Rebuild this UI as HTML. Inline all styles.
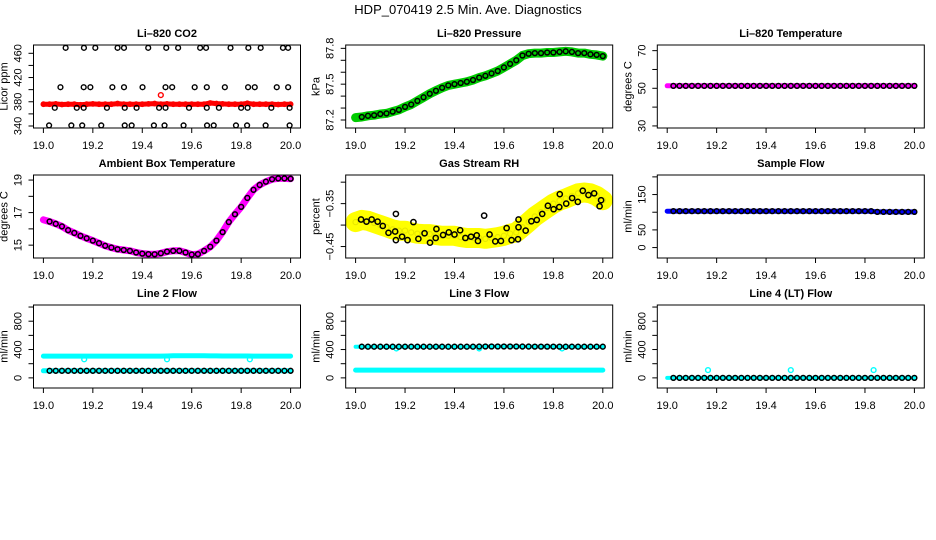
<!DOCTYPE html>
<html><head><meta charset="utf-8"><style>
html,body{margin:0;padding:0;background:#fff;}
svg{display:block;font-family:"Liberation Sans",Arial,sans-serif;}
</style></head><body>
<svg id="chart" width="936" height="540" viewBox="0 0 936 540">
<text x="468" y="14" text-anchor="middle" font-size="13">HDP_070419  2.5 Min. Ave. Diagnostics</text>
</svg>
<script>
// ---- data ----
const xTicks = [19.0, 19.2, 19.4, 19.6, 19.8, 20.0];
const xTickLabels = ["19.0", "19.2", "19.4", "19.6", "19.8", "20.0"];
const xStep41 = [19.0,19.025,19.05,19.075,19.1,19.125,19.15,19.175,19.2,19.225,19.25,19.275,19.3,19.325,19.35,19.375,19.4,19.425,19.45,19.475,19.5,19.525,19.55,19.575,19.6,19.625,19.65,19.675,19.7,19.725,19.75,19.775,19.8,19.825,19.85,19.875,19.9,19.925,19.95,19.975,20.0];

const co2Red = [376,376,376.5,375.5,376,376,375,376,376.5,376,376,376,377,376,376,376,376,376.5,377,376,376.5,376,376,376,376,376,376,378,377,376.5,376,376,376,377.5,376,376,376,376,375.5,376,376];
const co2RedOutlierX = [19.475];
const co2RedOutlierY = [391];
const co2BlackX = [19.09,19.164,19.21,19.30,19.326,19.424,19.497,19.545,19.634,19.658,19.757,19.829,19.879,19.969,19.99,
 19.069,19.163,19.19,19.279,19.326,19.401,19.494,19.521,19.612,19.661,19.734,19.828,19.855,19.944,19.99,
 19.046,19.135,19.163,19.257,19.329,19.377,19.468,19.494,19.589,19.661,19.71,19.8,19.826,19.922,19.996,
 19.023,19.113,19.157,19.234,19.329,19.357,19.447,19.49,19.567,19.662,19.689,19.779,19.824,19.899,19.996];
const co2BlackY = [469,469,469,469,469,469,469,469,469,469,469,469,469,469,469,
 404,404,404,404,404,404,404,404,404,404,404,404,404,404,404,
 370,370,370,370,370,370,370,370,370,370,370,370,370,370,370,
 341,341,341,341,341,341,341,341,341,341,341,341,341,341,341];

const pressure = [87.22,87.225,87.235,87.24,87.25,87.255,87.27,87.285,87.31,87.33,87.36,87.39,87.42,87.445,87.47,87.49,87.50,87.51,87.52,87.535,87.555,87.57,87.59,87.61,87.64,87.67,87.70,87.74,87.755,87.76,87.76,87.765,87.765,87.77,87.775,87.77,87.76,87.76,87.75,87.745,87.735];

const liTemp = [51.3,51.3,51.3,51.3,51.3,51.3,51.3,51.3,51.3,51.3,51.3,51.3,51.3,51.3,51.3,51.3,51.3,51.3,51.3,51.3,51.3,51.3,51.3,51.3,51.3,51.3,51.3,51.3,51.3,51.3,51.3,51.3,51.3,51.3,51.3,51.3,51.3,51.3,51.3,51.3,51.3];

const ambientTemp = [16.56,16.45,16.31,16.15,15.92,15.75,15.57,15.42,15.28,15.12,14.96,14.85,14.75,14.7,14.65,14.55,14.48,14.45,14.44,14.5,14.6,14.65,14.65,14.55,14.42,14.45,14.65,14.9,15.28,15.8,16.42,16.9,17.35,17.9,18.4,18.7,18.9,19.05,19.1,19.1,19.08];

const rhYellow = [-0.393,-0.388,-0.39,-0.395,-0.40,-0.405,-0.41,-0.413,-0.413,-0.417,-0.42,-0.421,-0.421,-0.423,-0.425,-0.425,-0.425,-0.428,-0.43,-0.43,-0.43,-0.432,-0.43,-0.428,-0.425,-0.42,-0.417,-0.405,-0.393,-0.38,-0.37,-0.36,-0.35,-0.343,-0.338,-0.332,-0.326,-0.324,-0.326,-0.332,-0.342];
const rhBlackX = [19.022,19.044,19.065,19.089,19.110,19.133,19.160,19.163,19.163,19.188,19.210,19.234,19.254,19.279,19.301,19.324,19.327,19.354,19.377,19.400,19.423,19.444,19.467,19.490,19.495,19.520,19.542,19.565,19.588,19.611,19.631,19.657,19.659,19.659,19.688,19.711,19.733,19.755,19.778,19.801,19.824,19.826,19.852,19.876,19.899,19.919,19.942,19.965,19.987,19.993];
const rhBlackY = [-0.387,-0.392,-0.387,-0.392,-0.402,-0.418,-0.415,-0.374,-0.435,-0.427,-0.435,-0.393,-0.432,-0.419,-0.441,-0.430,-0.409,-0.423,-0.417,-0.422,-0.412,-0.430,-0.427,-0.424,-0.437,-0.378,-0.422,-0.438,-0.437,-0.407,-0.435,-0.433,-0.387,-0.405,-0.413,-0.391,-0.388,-0.374,-0.355,-0.363,-0.358,-0.328,-0.350,-0.337,-0.346,-0.320,-0.330,-0.326,-0.356,-0.342];

const sampleFlow = [103,103,103,103,103,103,103,103,103,103,103,103,103,103,103,103,103,103,103,103,103,103,103,103,103,103,103,103,103,103,103,103,103,103,101,101,101,101,101,101,101];

const line2Upper = [307,307,307,307,307,307,307,307,307,307,307,307,307,307,307,307,307,307,307,307,309,311,311,311,311,311,311,310,310,309,309,309,309,309,308,308,308,308,308,308,308];
const line2Lower = [100,100,100,100,100,100,100,100,100,100,100,100,100,100,100,100,100,100,100,100,100,100,100,100,100,100,100,100,100,100,100,100,100,100,100,100,100,100,100,100,100];
const line2OutX = [19.165,19.5,19.835];
const line2OutY = [262,262,262];

const line3Upper = [440,440,440,440,440,440,440,440,440,440,440,440,440,440,440,440,440,440,440,440,442,443,443,443,443,443,443,442,442,441,441,441,441,441,440,440,440,440,440,440,440];
const line3Lower = [110,110,110,110,110,110,110,110,110,110,110,110,110,110,110,110,110,110,110,110,110,110,110,110,110,110,110,110,110,110,110,110,110,110,110,110,110,110,110,110,110];
const line3OutX = [19.165,19.5,19.835];
const line3OutY = [415,415,415];

const line4 = [0,0,0,0,0,0,0,0,0,0,0,0,0,0,0,0,0,0,0,0,0,0,0,0,0,0,0,0,0,0,0,0,0,0,0,0,0,0,0,0,0];
const line4OutX = [19.165,19.5,19.835];
const line4OutY = [110,110,110];

// ---- drawing ----
const NS = "http://www.w3.org/2000/svg";
const svg = document.getElementById("chart");
const colLeft = [33.5, 345.7, 657.3];
const rowTop = [45, 175, 305];
const BW = 267, BH = 83;

function mk(tag, attrs, parent) {
  const e = document.createElementNS(NS, tag);
  for (const k in attrs) e.setAttribute(k, attrs[k]);
  (parent || svg).appendChild(e);
  return e;
}

function panel(cfg) {
  const L = colLeft[cfg.col], T = rowTop[cfg.row];
  const g = mk("g", {});
  
  
  const xs = v => L + 9.9 + (v - 19) * (BW - 19.8);
  const ys = v => T + BH - (v - cfg.yBottom) / (cfg.yTop - cfg.yBottom) * BH;
  const t = mk("text", {x: L + BW / 2, y: T - 8, "text-anchor": "middle", "font-size": "11", "font-weight": "bold"}, g);
  t.textContent = cfg.title;
  
  
  const marks = mk("g", {}, g);
  
  
  cfg.draw(marks, xs, ys);
  const box = mk("rect", {x: L, y: T, width: BW, height: BH, fill: "none", stroke: "#000", "stroke-width": 1}, g);
  
  
  // x axis
  xTicks.forEach((v, i) => {
    const x = xs(v);
    mk("line", {x1: x, y1: T + BH, x2: x, y2: T + BH + 5, stroke: "#000"}, g);
    const lb = mk("text", {x: x, y: T + BH + 21, "text-anchor": "middle", "font-size": "11"}, g);
    lb.textContent = xTickLabels[i];
    
    
  });
  // y axis
  cfg.yTicks.forEach(v => {
    const y = ys(v);
    mk("line", {x1: L, y1: y, x2: L - 5, y2: y, stroke: "#000"}, g);
  });
  cfg.yLabels.forEach((v, i) => {
    const y = ys(v);
    const lb = mk("text", {x: 0, y: 0, "text-anchor": "middle", "font-size": "11", transform: `translate(${L - 12},${y}) rotate(-90)`}, g);
    lb.textContent = cfg.yLabelText[i];
    
    
  });
  const yt = mk("text", {x: 0, y: 0, "text-anchor": "middle", "font-size": "11", transform: `translate(${L - 26},${T + BH / 2}) rotate(-90)`}, g);
  yt.textContent = cfg.ylab;
  
  
}

function band(g, xs, ys, X, Y, color, w) {
  const pts = X.map((x, i) => xs(x).toFixed(1) + "," + ys(Y[i]).toFixed(1)).join(" ");
  const p = mk("polyline", {points: pts, fill: "none", stroke: color, "stroke-width": w, "stroke-linejoin": "round", "stroke-linecap": "round"}, g);
  
  
}
function pts(g, xs, ys, X, Y, color, r, sw, skipFirst) {
  X.forEach((x, i) => {
    if (skipFirst && i === 0) return;
    const c = mk("circle", {cx: xs(x), cy: ys(Y[i]), r: r || 2.4, fill: "none", stroke: color, "stroke-width": sw || 1.4}, g);
    
    
  });
}

panel({name: "co2-panel", col: 0, row: 0, title: "Li\u2013820 CO2", ylab: "Licor ppm",
  yTop: 473.7, yBottom: 336.7, yTicks: [340,360,380,400,420,440,460], yLabels: [340,380,420,460], yLabelText: ["340","380","420","460"],
  draw: (g, xs, ys) => {
    band(g, xs, ys, xStep41, co2Red, "#ff0000", 5);
    pts(g, xs, ys, xStep41, co2Red, "#ff0000", 2.2, 1.4);
    pts(g, xs, ys, co2RedOutlierX, co2RedOutlierY, "#ff0000");
    pts(g, xs, ys, co2BlackX, co2BlackY, "#000");
  }});

panel({name: "pressure-panel", col: 1, row: 0, title: "Li\u2013820 Pressure", ylab: "kPa",
  yTop: 87.828, yBottom: 87.133, yTicks: [87.2,87.3,87.4,87.5,87.6,87.7,87.8], yLabels: [87.2,87.5,87.8], yLabelText: ["87.2","87.5","87.8"],
  draw: (g, xs, ys) => {
    band(g, xs, ys, xStep41, pressure, "#00cc00", 9);
    pts(g, xs, ys, xStep41, pressure, "#00cc00");
    pts(g, xs, ys, xStep41, pressure, "#000", 2.4, 1.5, true);
  }});

panel({name: "li820-temperature-panel", col: 2, row: 0, title: "Li\u2013820 Temperature", ylab: "degrees C",
  yTop: 73.0, yBottom: 28.9, yTicks: [30,40,50,60,70], yLabels: [30,50,70], yLabelText: ["30","50","70"],
  draw: (g, xs, ys) => {
    band(g, xs, ys, xStep41, liTemp, "#ff00ff", 5);
    pts(g, xs, ys, xStep41, liTemp, "#000", 2.4, 1.5, true);
  }});

panel({name: "ambient-temperature-panel", col: 0, row: 1, title: "Ambient Box Temperature", ylab: "degrees C",
  yTop: 19.311, yBottom: 14.21, yTicks: [15,16,17,18,19], yLabels: [15,17,19], yLabelText: ["15","17","19"],
  draw: (g, xs, ys) => {
    band(g, xs, ys, xStep41, ambientTemp, "#ff00ff", 7);
    pts(g, xs, ys, xStep41, ambientTemp, "#000", 2.4, 1.5, true);
  }});

panel({name: "gas-stream-rh-panel", col: 1, row: 1, title: "Gas Stream RH", ylab: "percent",
  yTop: -0.2833, yBottom: -0.4767, yTicks: [-0.45,-0.40,-0.35,-0.30], yLabels: [-0.45,-0.35], yLabelText: ["\u22120.45","\u22120.35"],
  draw: (g, xs, ys) => {
    band(g, xs, ys, xStep41, rhYellow, "#ffff00", 20);
    pts(g, xs, ys, xStep41, rhYellow, "#e8e800", 2.6, 1.2);
    pts(g, xs, ys, rhBlackX, rhBlackY, "#000", 2.6, 1.5);
  }});

panel({name: "sample-flow-panel", col: 2, row: 1, title: "Sample Flow", ylab: "ml/min",
  yTop: 205.3, yBottom: -29.5, yTicks: [0,50,100,150,200], yLabels: [0,50,150], yLabelText: ["0","50","150"],
  draw: (g, xs, ys) => {
    band(g, xs, ys, xStep41, sampleFlow, "#0000ff", 5);
    pts(g, xs, ys, xStep41, sampleFlow, "#000", 2.4, 1.5, true);
  }});

const flowTicks = [0,200,400,600,800,1000];
panel({name: "line2-flow-panel", col: 0, row: 2, title: "Line 2 Flow", ylab: "ml/min",
  yTop: 1028.6, yBottom: -142.9, yTicks: flowTicks, yLabels: [0,400,800], yLabelText: ["0","400","800"],
  draw: (g, xs, ys) => {
    band(g, xs, ys, xStep41, line2Upper, "#00ffff", 5);
    band(g, xs, ys, xStep41, line2Lower, "#00ffff", 5);
    pts(g, xs, ys, line2OutX, line2OutY, "#00ffff");
    pts(g, xs, ys, xStep41, line2Lower, "#000", 2.4, 1.5, true);
  }});

panel({name: "line3-flow-panel", col: 1, row: 2, title: "Line 3 Flow", ylab: "ml/min",
  yTop: 1028.6, yBottom: -142.9, yTicks: flowTicks, yLabels: [0,400,800], yLabelText: ["0","400","800"],
  draw: (g, xs, ys) => {
    band(g, xs, ys, xStep41, line3Upper, "#00ffff", 4);
    band(g, xs, ys, xStep41, line3Lower, "#00ffff", 5);
    pts(g, xs, ys, line3OutX, line3OutY, "#00ffff");
    pts(g, xs, ys, xStep41, line3Upper, "#000", 2.4, 1.5, true);
  }});

panel({name: "line4-flow-panel", col: 2, row: 2, title: "Line 4 (LT) Flow", ylab: "ml/min",
  yTop: 1028.6, yBottom: -142.9, yTicks: flowTicks, yLabels: [0,400,800], yLabelText: ["0","400","800"],
  draw: (g, xs, ys) => {
    band(g, xs, ys, xStep41, line4, "#00ffff", 4);
    pts(g, xs, ys, line4OutX, line4OutY, "#00ffff");
    pts(g, xs, ys, xStep41, line4, "#000", 2.4, 1.5, true);
  }});
</script>
</body></html>
